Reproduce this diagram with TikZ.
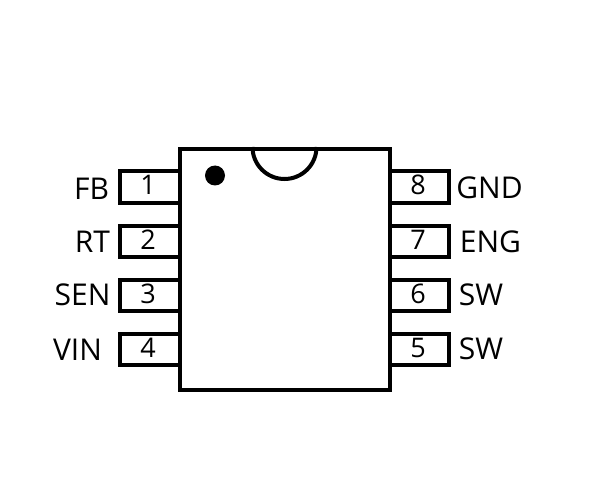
\documentclass[tikz,border=0pt]{standalone}
\usepackage{fontspec}
\setmainfont{Open Sans}
\begin{document}
\begin{tikzpicture}[x=1pt,y=-1pt,
  lw/.style={line width=4pt,black},
  chip/.style={draw,lw,rectangle,inner sep=0pt,minimum width=210pt,minimum height=241pt},
  pin/.style={draw,lw,rectangle,inner sep=0pt,minimum width=60pt,minimum height=31pt},
  pinnum/.style={anchor=base,inner sep=0pt,font=\fontsize{27pt}{27pt}\selectfont},
  lab/.style={anchor=base,inner sep=0pt,font=\fontsize{30pt}{30pt}\selectfont,text=black}]
\useasboundingbox (0,0) rectangle (600,500);
\fill[white] (0,0) rectangle (600,500);
% pins
\node[pin] (p1) at (149.5,187) {};
\node[pin] (p2) at (149.5,241) {};
\node[pin] (p3) at (149.5,295) {};
\node[pin] (p4) at (149.5,349) {};
\node[pin] (p8) at (419,187) {};
\node[pin] (p7) at (419,241) {};
\node[pin] (p6) at (419,295) {};
\node[pin] (p5) at (419,349) {};
% body
\node[chip,fill=white] (body) at (284.5,269.5) {};
\draw[lw] ([xshift=-32pt]body.north) arc[start angle=180,end angle=360,radius=32pt];
\node[circle,fill=black,inner sep=0pt,minimum size=20pt] (dot) at (215,175.5) {};
% numbers
\node[pinnum] (n1) at (148,194.5) {1};
\node[pinnum] (n2) at (148,249) {2};
\node[pinnum] (n3) at (148,303) {3};
\node[pinnum] (n4) at (148,357) {4};
\node[pinnum] (n8) at (418,195) {8};
\node[pinnum] (n7) at (418,249) {7};
\node[pinnum] (n6) at (418,303) {6};
\node[pinnum] (n5) at (418,357) {5};
% labels
\node[lab] (fb) at (91.5,200) {FB};
\node[lab] (rt) at (92.5,252) {RT};
\node[lab] (sen) at (82.5,305) {SEN};
\node[lab] (vin) at (77.5,360) {VIN};
\node[lab] (gnd) at (489.5,198) {GND};
\node[lab] (eng) at (490.5,252) {ENG};
\node[lab] (sw6) at (481,305) {SW};
\node[lab] (sw5) at (481,359) {SW};
\end{tikzpicture}
\end{document}
